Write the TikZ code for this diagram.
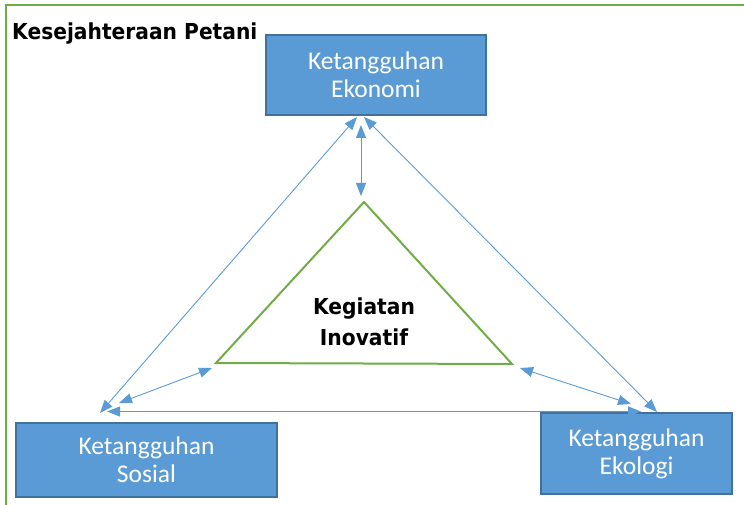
\documentclass[tikz,border=0pt]{standalone}
\usepackage{fontspec}
\setmainfont{Carlito}
\newfontfamily\headfont{DejaVu Sans}
\usetikzlibrary{arrows.meta}
\definecolor{boxfill}{HTML}{5B9BD5}
\definecolor{boxline}{HTML}{41719C}
\definecolor{leaf}{HTML}{70AD47}
\newcommand{\narrow}[1]{\scalebox{0.92}[1]{#1}}
\begin{document}
\begin{tikzpicture}[x=1pt,y=-1pt,
  pillar/.style={draw=boxline, line width=1.5pt, fill=boxfill, text=white,
    font=\fontsize{25.5}{28}\selectfont, align=center, inner sep=0pt},
  link/.style={draw=boxfill, line width=0.9pt,
    {Triangle[length=13pt,width=10pt]}-{Triangle[length=13pt,width=10pt]}},
  heading/.style={font=\headfont\bfseries\fontsize{22}{31}\selectfont, align=center, inner sep=0pt}]
\useasboundingbox (0,0) rectangle (744,505);

% outer frame (top and left edges)
\draw[leaf, line width=2pt] (744,5) -- (6,5) -- (6,505);
\node[heading, anchor=west] (title) at (12,34) {\narrow{Kesejahteraan Petani}};

% the three pillars
\node[pillar, minimum width=220pt, minimum height=80pt] (eko) at (376,75) {Ketangguhan\\Ekonomi};
\node[pillar, minimum width=261pt, minimum height=74pt] (sos) at (146.5,460) {Ketangguhan\\Sosial};
\node[pillar, minimum width=191pt, minimum height=81pt] (eco) at (636.5,453.5) {Ketangguhan\\Ekologi};

% central triangle
\coordinate (tA) at (364,202);
\coordinate (tB) at (216,363);
\coordinate (tC) at (512,364);
\draw[leaf, line width=2pt, line join=miter] (tA) -- (tB) -- (tC) -- cycle;
\node[heading] (inov) at (364,322) {\narrow{Kegiatan}\\\narrow{Inovatif}};

% connector end points
\coordinate (ekoL) at (357,117);
\coordinate (ekoR) at (364,117);
\coordinate (ekoM) at (361,125);
\coordinate (sosT) at (100,413);
\coordinate (sosH) at (107,411.5);
\coordinate (sosD) at (119,403);
\coordinate (ecoT) at (657,412);
\coordinate (ecoH) at (641,411.5);
\coordinate (ecoD) at (631,404);
\coordinate (triTop) at (361,196);
\coordinate (triL) at (212,368);
\coordinate (triR) at (520,368);

\draw[link] (ekoL) -- (sosT);
\draw[link] (ekoR) -- (ecoT);
\draw[link] (ekoM) -- (triTop);
\draw[link] (sosH) -- (ecoH);
\draw[link] (sosD) -- (triL);
\draw[link] (triR) -- (ecoD);
\end{tikzpicture}
\end{document}
